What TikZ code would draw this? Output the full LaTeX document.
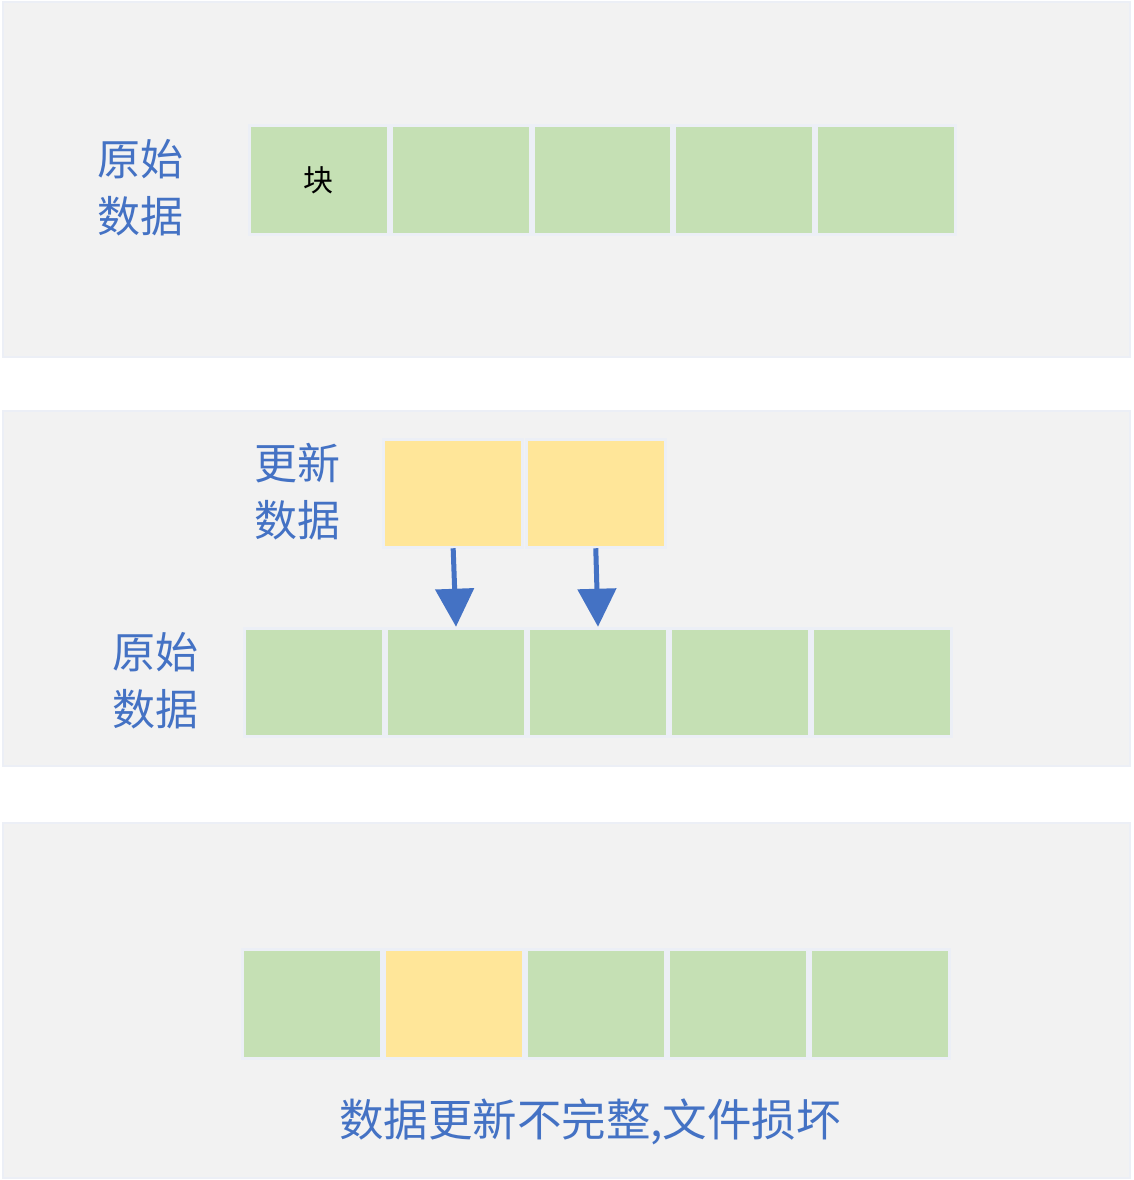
\documentclass[tikz,border=0pt]{standalone}
\usepackage{fontspec}
\setmainfont{Noto Sans CJK SC}
\usetikzlibrary{arrows.meta,positioning}
\definecolor{panelbg}{HTML}{F2F2F2}
\definecolor{edge}{HTML}{ECEFF6}
\definecolor{blockgreen}{HTML}{C5E0B4}
\definecolor{blockyellow}{HTML}{FFE699}
\definecolor{textblue}{HTML}{4472C4}

\begin{document}
\begin{tikzpicture}[x=1pt,y=-1pt,
    panel/.style={fill=panelbg, draw=edge, line width=2pt},
    block/.style={draw=edge, line width=3pt, minimum width=138.8pt, minimum height=108.5pt, inner sep=0pt},
    old/.style={block, fill=blockgreen},
    new/.style={block, fill=blockyellow, minimum width=139.5pt},
    lbl/.style={text=textblue, align=center, font=\fontsize{43}{57}\selectfont},
    flow/.style={draw=textblue, line width=5pt, -{Triangle[width=38pt,length=38pt]}, shorten <=-1pt}]
    \useasboundingbox (0,0) rectangle (1133,1180);
    % panels
    \draw[panel] (3,2) rectangle (1130,357);
    \draw[panel] (3,411) rectangle (1130,766);
    \draw[panel] (3,823) rectangle (1130,1178);
    % original data
    \node[lbl] at (140,188) (orig) {原始\\数据};
    \foreach \i in {0,...,4}
        \node[old] at (318.9+141.8*\i, 180) (a\i) {};
    \node[font=\fontsize{30}{36}\selectfont] at (a0) {块};
    % update
    \node[lbl] at (297,492) (upd) {更新\\数据};
    \node[new] at (453.2, 493.5) (u0) {};
    \node[new] at (595.8, 493.5) (u1) {};
    \node[lbl] at (155,681) (orig2) {原始\\数据};
    \foreach \i in {0,...,4}
        \node[old] at (314+142*\i, 682.5) (b\i) {};
    \draw[flow] (u0.south) -- (b1.north);
    \draw[flow] (u1.south) -- (b2.north);
    % result
    \foreach \i in {0,...,4}
        \node[old] at (312+142*\i, 1004) (c\i) {};
    \node[new, minimum width=138.8pt] at (c1) {};
    \node[lbl, font=\fontsize{44.5}{57}\selectfont] at (590,1122) (msg) {数据更新不完整,文件损坏};
\end{tikzpicture}
\end{document}
